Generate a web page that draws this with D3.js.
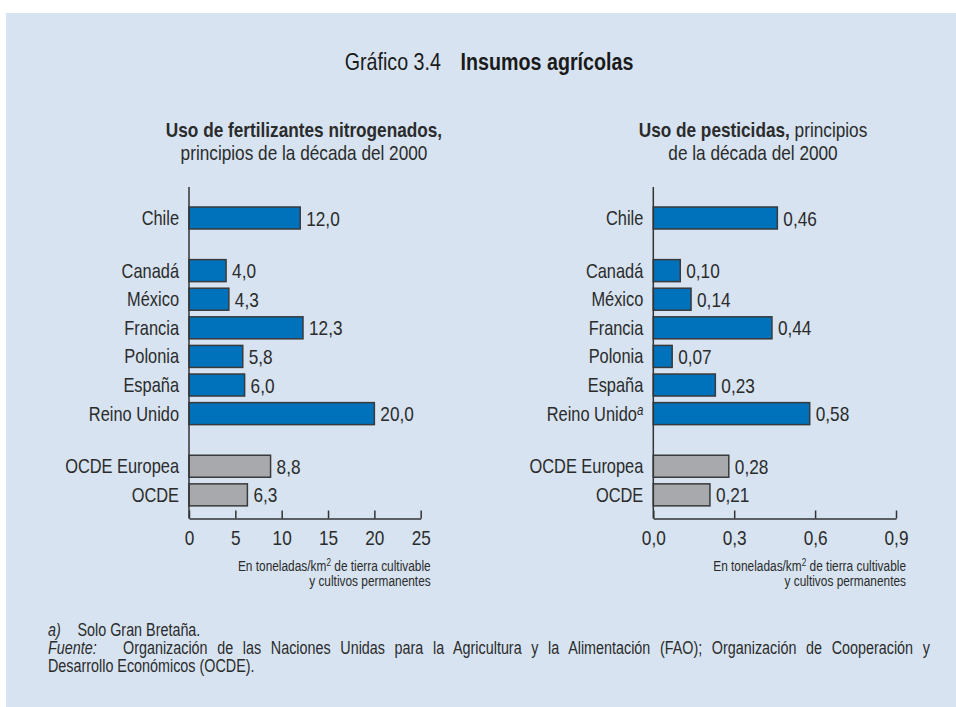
<!DOCTYPE html>
<html>
<head>
<meta charset="utf-8">
<script src="https://d3js.org/d3.v7.min.js"></script>
<style>
  body { margin: 0; background: #fff; }
  svg text { font-family: "Liberation Sans", Arial, Helvetica, sans-serif; fill: #2b2b2b; }
</style>
</head>
<body>
<svg id="chart" width="956" height="707"></svg>
<script>
// data
var countries = ["Chile", "Canadá", "México", "Francia", "Polonia", "España", "Reino Unido", "OCDE Europea", "OCDE"];
var groups = [0, 1, 1, 1, 1, 1, 1, 2, 2];          // 0 = Chile, 1 = comparison countries, 2 = OECD averages
var fertilizantes = [12.0, 4.0, 4.3, 12.3, 5.8, 6.0, 20.0, 8.8, 6.3];
var pesticidas = [0.46, 0.10, 0.14, 0.44, 0.07, 0.23, 0.58, 0.28, 0.21];
var ticksFert = [0, 5, 10, 15, 20, 25];
var ticksPest = [0, 0.3, 0.6, 0.9];

var es = d3.formatLocale({decimal: ",", thousands: ".", grouping: [3], currency: ["", " €"]});
var narrow = 0.82;   // the original uses a condensed Helvetica; squeeze Liberation Sans to match

var svg = d3.select("#chart");

// background panel
svg.append("rect").attr("x", 6).attr("y", 13).attr("width", 950).attr("height", 700)
  .attr("fill", "#d7e3f1");

// title
var title = svg.append("text").attr("x", 489).attr("y", 70).attr("text-anchor", "middle")
  .style("font-size", "24px");
title.append("tspan").text("Gráfico 3.4").style("fill", "#1a1a1a");
title.append("tspan").attr("dx", 24).text("Insumos agrícolas").style("font-weight", "bold").style("fill", "#1a1a1a");

// vertical positions: slot = index + extra gap per group
var groupGap = 0.84;
var slot = countries.map(function(d, i) { return i + groups[i] * groupGap; });
var y = d3.scaleLinear().domain([0, 1]).range([218, 246.6]);
var barH = 22;

function panel(cfg) {
  var g = svg.append("g");
  var x = d3.scaleLinear().domain(cfg.domain).range(cfg.range);
  var x0 = cfg.range[0];
  var base = 518.5;

  // subtitle
  cfg.subtitle.forEach(function(line, li) {
    var t = g.append("text").attr("x", cfg.subX).attr("y", 137 + li * 23)
      .attr("text-anchor", "middle").style("font-size", "21px");
    line.forEach(function(p) {
      t.append("tspan").text(p.t).style("font-weight", p.b ? "bold" : "normal");
    });
  });

  // bars
  g.selectAll("rect.bar").data(cfg.values).enter().append("rect")
    .attr("class", "bar")
    .attr("x", x0)
    .attr("y", function(d, i) { return y(slot[i]) - barH / 2; })
    .attr("width", function(d) { return x(d) - x0; })
    .attr("height", barH)
    .attr("fill", function(d, i) { return groups[i] === 2 ? "#a7a9ac" : "#0071bb"; })
    .attr("stroke", "#3a3a3a")
    .attr("stroke-width", 1.5);

  // value labels
  g.selectAll("text.val").data(cfg.values).enter().append("text")
    .attr("class", "val")
    .attr("x", function(d) { return x(d) + 6; })
    .attr("y", function(d, i) { return y(slot[i]) + 7.5; })
    .style("font-size", "21px")
    .text(function(d) { return cfg.fmt(d); });

  // category labels
  var cat = g.selectAll("text.cat").data(countries).enter().append("text")
    .attr("class", "cat")
    .attr("x", x0 - 10)
    .attr("y", function(d, i) { return y(slot[i]) + 7; })
    .attr("text-anchor", "end")
    .style("font-size", "20px");
  cat.append("tspan").text(function(d) { return d; });
  if (cfg.noteOn) {
    cat.filter(function(d) { return d === cfg.noteOn; })
      .append("tspan").text("a").attr("dy", -6).style("font-style", "italic").style("font-size", "14px");
  }

  // x axis
  var ax = g.append("g").attr("transform", "translate(0," + base + ")")
    .call(d3.axisBottom(x).tickValues(cfg.ticks).tickSizeInner(-8).tickSizeOuter(0).tickPadding(10)
      .tickFormat(cfg.tickFmt));
  ax.select(".domain").attr("stroke", "#333").attr("stroke-width", 1.5);
  ax.selectAll(".tick line").attr("stroke", "#333").attr("stroke-width", 1.5);
  ax.selectAll(".tick text").style("font-size", "21px").attr("fill", "#2b2b2b")
    .attr("y", 12).attr("dy", "0.71em");
  ax.attr("font-family", null).attr("font-size", null);

  // y axis line
  g.append("line").attr("x1", x0).attr("x2", x0).attr("y1", 187).attr("y2", base)
    .attr("stroke", "#333").attr("stroke-width", 1.5);

  // unit note
  var u1 = g.append("text").attr("x", cfg.range[1] + 10).attr("y", 571).attr("text-anchor", "end")
    .style("font-size", "14.5px");
  u1.append("tspan").text("En toneladas/km");
  u1.append("tspan").text("2").attr("dy", -5).style("font-size", "10px");
  u1.append("tspan").text(" de tierra cultivable").attr("dy", 5);
  g.append("text").attr("x", cfg.range[1] + 10).attr("y", 586).attr("text-anchor", "end")
    .style("font-size", "14.5px").text("y cultivos permanentes");
}

panel({
  values: fertilizantes, domain: [0, 25], range: [189, 420.7], ticks: ticksFert,
  fmt: es.format(".1f"), tickFmt: es.format("d"), subX: 304,
  subtitle: [[{t: "Uso de fertilizantes nitrogenados,", b: true}], [{t: "principios de la década del 2000"}]]
});
panel({
  values: pesticidas, domain: [0, 0.9], range: [653.3, 896], ticks: ticksPest,
  fmt: es.format(".2f"), tickFmt: es.format(".1f"), subX: 753, noteOn: "Reino Unido",
  subtitle: [[{t: "Uso de pesticidas,", b: true}, {t: " principios"}], [{t: "de la década del 2000"}]]
});

// footnotes
var fs = "17.5px";
var f1 = svg.append("text").attr("x", 48).attr("y", 636).style("font-size", fs);
f1.append("tspan").text("a)").style("font-style", "italic");
svg.append("text").attr("x", 77.5).attr("y", 636).style("font-size", fs).text("Solo Gran Bretaña.");
svg.append("text").attr("x", 48).attr("y", 654).style("font-size", fs).style("font-style", "italic").text("Fuente:");
var src = svg.append("text").attr("x", 123).attr("y", 654).style("font-size", fs)
  .text("Organización de las Naciones Unidas para la Agricultura y la Alimentación (FAO); Organización de Cooperación y");
svg.append("text").attr("x", 48).attr("y", 672).style("font-size", fs).text("Desarrollo Económicos (OCDE).");

// justify the source line to the right edge (measured before squeezing)
var w = src.node().getComputedTextLength();
var spaces = src.text().split(" ").length - 1;
src.style("word-spacing", Math.max(0, ((930 - 123) / narrow - w) / spaces) + "px");

// condense every text horizontally around its anchor point
svg.selectAll("text").each(function() {
  var t = d3.select(this);
  var tx = +t.attr("x") || 0, ty = +t.attr("y") || 0;
  t.attr("x", 0).attr("y", 0)
    .attr("transform", "translate(" + tx + "," + ty + ") scale(" + narrow + ",1)");
});
</script>
</body>
</html>
